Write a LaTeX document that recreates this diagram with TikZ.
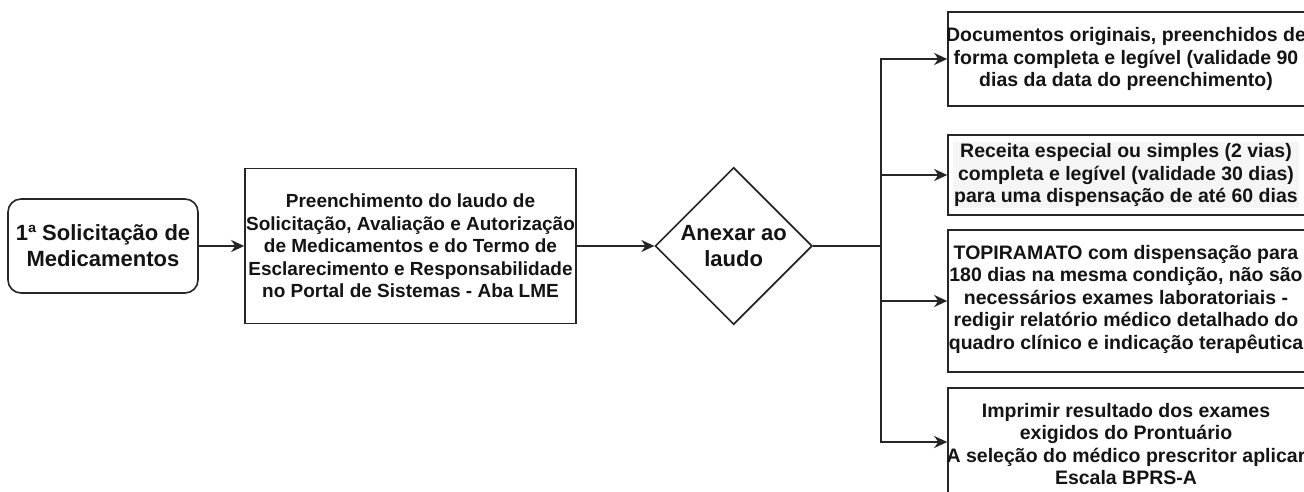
\documentclass[tikz,border=0pt]{standalone}
\usepackage{fontspec}
\setmainfont{Liberation Sans}
\usetikzlibrary{shapes.geometric,arrows.meta}
\begin{document}
\begin{tikzpicture}[x=1pt,y=-1pt,
  line width=1.6pt, draw=black!85,
  arr/.style={-{Stealth[length=13pt,width=12pt,inset=4pt]}},
  txtA/.style={font=\bfseries\fontsize{22}{26}\selectfont, align=center, inner sep=0pt, text=black!92},
  txtB/.style={font=\bfseries\fontsize{19}{22.5}\selectfont, align=center, inner sep=0pt, text=black!92},
  txtC/.style={font=\bfseries\fontsize{19.5}{22.5}\selectfont, align=center, inner sep=0pt, text=black!92},
  rbox/.style={draw, rectangle, inner sep=0pt, minimum width=358pt, minimum height=#1}]
\useasboundingbox (0,0) rectangle (1304,492);
\clip (0,0) rectangle (1304,492);
\fill[white] (0,0) rectangle (1304,492);

% start
\node[draw, rectangle, rounded corners=13pt, minimum width=190pt, minimum height=94pt, inner sep=0pt, txtA] (s) at (103,246) {1ª Solicitação de\\Medicamentos};

% fill form
\node[draw, rectangle, minimum width=331pt, minimum height=155pt, inner sep=0pt, txtB] (f) at (410.5,246) {Preenchimento do laudo de\\Solicitação, Avaliação e Autorização\\de Medicamentos e do Termo de\\Esclarecimento e Responsabilidade\\no Portal de Sistemas - Aba LME};

% decision
\node[draw, diamond, aspect=1, minimum width=157pt, minimum height=157pt, inner sep=0pt, txtA] (d) at (733.7,246) {Anexar ao\\laudo};

% right boxes
\node[rbox=94pt] (b1) at (1127,59) {};
\node[txtC] (t1) at (1126,59) {Documentos originais, preenchidos de\\forma completa e legível (validade 90\\dias da data do preenchimento)};

\node[rbox=80pt] (b2) at (1127,175) {};
\node[txtC, fill=black!4, inner sep=1pt] (t2) at (1126,175) {Receita especial ou simples (2 vias)\\completa e legível (validade 30 dias)\\para uma dispensação de até 60 dias};

\node[rbox=142pt] (b3) at (1127,301) {};
\node[txtC] (t3) at (1126,299) {TOPIRAMATO com dispensação para\\180 dias na mesma condição, não são\\necessários exames laboratoriais -\\redigir relatório médico detalhado do\\quadro clínico e indicação terapêutica};

\node[rbox=108pt] (b4) at (1127,442) {};
\node[txtC] (t4) at (1126,444) {Imprimir resultado dos exames\\exigidos do Prontuário\\A seleção do médico prescritor aplicar\\Escala BPRS-A};

% connectors
\coordinate (j) at (880.7,246);
\draw[arr] (s.east) -- (f.west);
\draw[arr] (f.east) -- (d.west);
\draw (d.east) -- (j);
\draw[arr] (j) |- (b1.west);
\draw[arr] (j) |- (b2.west);
\draw[arr] (j) |- (b3.west);
\draw[arr] (j) |- (b4.west);
\end{tikzpicture}
\end{document}
